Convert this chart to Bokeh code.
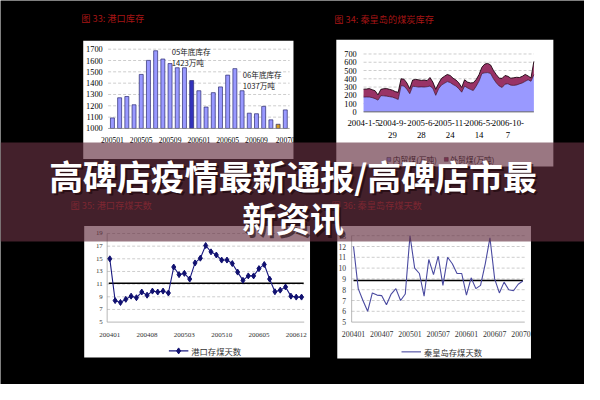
from bokeh.plotting import figure
from bokeh.models import Range1d
from bokeh.embed import file_html
from bokeh.resources import INLINE
from bokeh.core.properties import value

W, H = 584, 384
S = W / 600.0


def fs(px):
    return f"{px * S:.1f}px"


SERIF = "Liberation Serif"
CJK = "Noto Sans CJK SC"

# ---------------- data ----------------
# Fig 33: port coal stock (10k t), 200501..200701
port_stock_months = ["200501", "200502", "200503", "200504", "200505", "200506", "200507",
                     "200508", "200509", "200510", "200511", "200512", "200601", "200602",
                     "200603", "200604", "200605", "200606", "200607", "200608", "200609",
                     "200610", "200611", "200612", "200701"]
port_stock = [1093, 1271, 1282, 1209, 1477, 1601, 1686, 1613, 1573, 1536, 1536, 1423, 1333,
              1189, 1316, 1367, 1471, 1528, 1333, 1135, 1130, 1195, 1076, 1037, 1164]
port_stock_yticks = [1000, 1100, 1200, 1300, 1400, 1500, 1600, 1700]
port_stock_xlabels = ["200501", "200505", "200509", "200601", "200605", "200609", "20070"]
port_stock_xlabel_idx = [0, 4, 8, 12, 16, 20, 24]

# Fig 34: Qinhuangdao coal stock (10k t): domestic + foreign trade coal
qhd_total = [274, 276, 281, 268, 255, 205, 272, 280, 281, 272, 262, 245, 236, 400, 395, 350,
             280, 385, 392, 388, 380, 385, 377, 415, 360, 272, 345, 405, 430, 452, 440, 407,
             385, 350, 295, 388, 360, 350, 352, 390, 450, 540, 578, 586, 567, 500, 450, 407,
             405, 440, 430, 407, 412, 418, 415, 430, 453, 434, 410, 610]
qhd_domestic = [179, 180, 179, 172, 160, 142, 196, 194, 190, 184, 178, 165, 150, 318, 312, 274,
                220, 310, 306, 300, 302, 300, 304, 312, 285, 200, 280, 325, 345, 366, 355, 331,
                312, 280, 238, 312, 290, 272, 258, 310, 372, 464, 472, 475, 464, 400, 350, 312,
                295, 335, 340, 323, 320, 325, 338, 350, 369, 388, 370, 450]
qhd_yticks = [0, 100, 200, 300, 400, 500, 600, 700]
qhd_xlabel_idx = [0, 10, 20, 30, 40, 50]
qhd_xlabels_1 = ["2004-1-5", "2004-9-", "2005-6-", "2005-11-", "2006-5-", "2006-10-"]
qhd_xlabels_2 = ["", "29", "28", "24", "14", "7"]
qhd_series = ["内贸煤(万吨)", "外贸煤(万吨)"]

# Fig 35: port coal stock days, 200401..200701
port_days = [15.0, 8.4, 8.1, 8.6, 9.1, 8.85, 9.75, 9.25, 9.9, 9.75, 9.9, 9.6, 13.7, 12.5,
             12.7, 11.8, 14.35, 15.1, 17.1, 16.1, 15.6, 14.8, 14.8, 14.25, 12.9, 11.6, 12.3,
             12.3, 13.45, 14.1, 11.8, 9.8, 10.05, 10.55, 9.1, 8.95, 8.95]
port_days_avg = 11.15
port_days_yticks = [5, 7, 9, 11, 13, 15, 17, 19]
port_days_xlabels = ["200401", "200408", "200503", "200510", "200605", "200612"]
port_days_xlabel_idx = [0, 7, 14, 21, 28, 35]

# Fig 36: Qinhuangdao coal stock days, 200401..200701
qhd_days = [12.0, 8.1, 7.0, 6.0, 7.7, 7.5, 7.45, 6.6, 7.6, 8.1, 7.0, 7.6, 13.0, 10.0, 9.5,
            7.4, 10.8, 9.4, 11.1, 8.4, 11.0, 10.4, 9.5, 9.5, 7.5, 9.1, 8.1, 8.4, 10.4, 12.8,
            9.0, 7.7, 8.7, 8.0, 7.9, 8.5, 8.8]
qhd_days_avg = 8.85
qhd_days_yticks = [5, 6, 7, 8, 9, 10, 11, 12, 13]
qhd_days_xlabels = ["200401", "200407", "200501", "200507", "200601", "200607", "20070"]
qhd_days_xlabel_idx = [0, 6, 12, 18, 24, 30, 35.6]

headline = ["高碑店疫情最新通报/高碑店市最", "新资讯"]


# ---------------- helpers ----------------
def fit_range(v0, f0, v1, f1):
    d = (v1 - v0) / (f1 - f0)
    s = v0 - f0 * d
    return Range1d(s, s + d)


def xr(v0, px0, v1, px1):
    return fit_range(v0, px0 / 600.0, v1, px1 / 600.0)


def yr(v0, py0, v1, py1):
    return fit_range(v0, (400 - py0) / 400.0, v1, (400 - py1) / 400.0)


p = figure(width=W, height=H, x_range=Range1d(0, 600), y_range=Range1d(400, 0),
           output_backend="svg", toolbar_location=None, min_border=0,
           x_axis_type=None, y_axis_type=None,
           background_fill_color="black", border_fill_color="black", outline_line_color=None)
p.grid.visible = False

p.extra_x_ranges = {
    "x1": xr(0, 115, 24, 292.6),
    "x2": xr(0, 373, len(qhd_total) - 1, 548),
    "x3": xr(0, 112.3, 36, 309.3),
    "x4": xr(0, 362.7, 36, 536.7),
}
p.extra_y_ranges = {
    "y1": yr(1000, 133.3, 1700, 50.7),
    "y2": yr(0, 116, 700, 55.7),
    "y3": yr(5, 335, 19, 242.7),
    "y4": yr(5, 335, 13, 245),
}

TITLE_RED = "#a51515"
GRID = "#b8b8b8"

# ---------------- panel boxes ----------------
p.quad(left=[85, 345, 86, 346], right=[301, 568, 318, 545],
       top=[42, 41, 235, 235], bottom=[165, 173, 372, 373],
       fill_color="white", line_color=None)

# titles
p.text(x=[83, 343, 72, 340], y=[18, 19, 213, 213],
       text=["图 33:  港口库存", "图 34:  秦皇岛的煤炭库存", "图 35:  港口存煤天数", "图 36:  秦皇岛存煤天数"],
       text_font=value(CJK), text_font_size=fs(9.5), text_color=TITLE_RED,
       text_baseline="middle", text_align="left")

# ---------------- Fig 33 ----------------
n1 = len(port_stock)
idx1 = list(range(n1))
p.segment(x0=[-0.6] * 7, x1=[24.6] * 7, y0=port_stock_yticks[1:], y1=port_stock_yticks[1:],
          x_range_name="x1", y_range_name="y1", line_color=GRID, line_dash="3 2", line_width=0.7)
bar_colors = ["#9999FF"] * n1
bar_colors[11] = "#3333BB"
bar_colors[23] = "#D4A020"
p.vbar(x=idx1, top=port_stock, bottom=1000, width=0.55, x_range_name="x1", y_range_name="y1",
       fill_color=bar_colors, line_color="#2a2a70", line_width=0.7)
p.segment(x0=[-0.6], x1=[24.6], y0=[1000], y1=[1000], x_range_name="x1", y_range_name="y1",
          line_color="#888888", line_width=0.8)
p.text(x=[105] * len(port_stock_yticks), y=port_stock_yticks, text=[str(v) for v in port_stock_yticks],
       y_range_name="y1", text_align="right", text_baseline="middle",
       text_font=value(SERIF), text_font_size=fs(8.5), text_color="black")
p.text(x=port_stock_xlabel_idx, y=[145.5] * 7, text=port_stock_xlabels, x_range_name="x1",
       text_align="center", text_baseline="middle",
       text_font=value(SERIF), text_font_size=fs(7.8), text_color="black")
p.text(x=[176, 176, 249, 249], y=[53, 65, 77, 88.5],
       text=["05年底库存", "1423万吨", "06年底库存", "1037万吨"],
       text_align="left", text_baseline="middle",
       text_font=value(CJK), text_font_size=fs(7.8), text_color="#222222")

# ---------------- Fig 34 ----------------
n2 = len(qhd_total)
idx2 = list(range(n2))
p.segment(x0=[0] * 7, x1=[n2 - 1] * 7, y0=qhd_yticks[1:], y1=qhd_yticks[1:],
          x_range_name="x2", y_range_name="y2", line_color=GRID, line_dash="3 2", line_width=0.7)
p.varea(x=idx2, y1=[0] * n2, y2=qhd_domestic, x_range_name="x2", y_range_name="y2",
        fill_color="#9999FF")
p.varea(x=idx2, y1=qhd_domestic, y2=qhd_total, x_range_name="x2", y_range_name="y2",
        fill_color="#993366")
p.line(x=idx2, y=qhd_domestic, x_range_name="x2", y_range_name="y2",
       line_color="#3a1030", line_width=0.7)
p.line(x=idx2, y=qhd_total, x_range_name="x2", y_range_name="y2",
       line_color="#1a0510", line_width=0.9)
p.segment(x0=[0], x1=[n2 - 1], y0=[0], y1=[0], x_range_name="x2", y_range_name="y2",
          line_color="#555555", line_width=0.9)
p.text(x=[366] * len(qhd_yticks), y=qhd_yticks, text=[str(v) for v in qhd_yticks],
       y_range_name="y2", text_align="right", text_baseline="middle",
       text_font=value(SERIF), text_font_size=fs(8.5), text_color="black")
p.text(x=qhd_xlabel_idx, y=[127.5] * 6, text=qhd_xlabels_1, x_range_name="x2",
       text_align="center", text_baseline="middle",
       text_font=value(SERIF), text_font_size=fs(9), text_color="black")
p.text(x=qhd_xlabel_idx, y=[140.5] * 6, text=qhd_xlabels_2, x_range_name="x2",
       text_align="center", text_baseline="middle",
       text_font=value(SERIF), text_font_size=fs(9), text_color="black")
# legend
p.quad(left=[397, 456], right=[401, 460], top=[163.5, 163.5], bottom=[167.5, 167.5],
       fill_color=["#9999FF", "#993366"], line_color="#222222", line_width=0.5)
p.text(x=[403, 462], y=[166, 166], text=qhd_series, text_align="left", text_baseline="middle",
       text_font=value(CJK), text_font_size=fs(8), text_color="black")

# ---------------- Fig 35 ----------------
n3 = len(port_days)
idx3 = list(range(n3))
p.segment(x0=[-0.5] * 7, x1=[36.5] * 7, y0=port_days_yticks[1:], y1=port_days_yticks[1:],
          x_range_name="x3", y_range_name="y3", line_color=GRID, line_dash="3 2", line_width=0.7)
p.segment(x0=[-0.5, -0.5], x1=[36.5, -0.5], y0=[5, 5], y1=[5, 19],
          x_range_name="x3", y_range_name="y3", line_color="#999999", line_width=0.7)
p.line(x=[-0.2, 36.4], y=[port_days_avg] * 2, x_range_name="x3", y_range_name="y3",
       line_color="black", line_width=1.6)
p.line(x=idx3, y=port_days, x_range_name="x3", y_range_name="y3",
       line_color="#1a1a80", line_width=1.1)
p.scatter(x=idx3, y=port_days, x_range_name="x3", y_range_name="y3", marker="diamond",
          size=6, fill_color="#101070", line_color="#101070")
p.text(x=[105] * len(port_days_yticks), y=port_days_yticks, text=[str(v) for v in port_days_yticks],
       y_range_name="y3", text_align="right", text_baseline="middle",
       text_font=value(SERIF), text_font_size=fs(7), text_color="#333333")
p.text(x=port_days_xlabel_idx, y=[348.5] * 6, text=port_days_xlabels, x_range_name="x3",
       text_align="center", text_baseline="middle",
       text_font=value(SERIF), text_font_size=fs(7.2), text_color="#333333")
p.line(x=[173, 193], y=[365, 365], line_color="#1a1a80", line_width=1.1)
p.scatter(x=[183], y=[365], marker="diamond", size=6, fill_color="#101070", line_color="#101070")
p.text(x=[196], y=[365], text=["港口存煤天数"], text_align="left", text_baseline="middle",
       text_font=value(CJK), text_font_size=fs(8.5), text_color="#333333")

# ---------------- Fig 36 ----------------
n4 = len(qhd_days)
idx4 = list(range(n4))
p.segment(x0=[-0.4] * 8, x1=[36.4] * 8, y0=qhd_days_yticks[1:], y1=qhd_days_yticks[1:],
          x_range_name="x4", y_range_name="y4", line_color=GRID, line_dash="3 2", line_width=0.7)
p.segment(x0=[-0.4, -0.4], x1=[36.4, -0.4], y0=[5, 5], y1=[5, 13],
          x_range_name="x4", y_range_name="y4", line_color="#999999", line_width=0.7)
p.line(x=[0, 36], y=[qhd_days_avg] * 2, x_range_name="x4", y_range_name="y4",
       line_color="black", line_width=1.6)
p.line(x=idx4, y=qhd_days, x_range_name="x4", y_range_name="y4",
       line_color="#4a4aa0", line_width=1.1)
p.text(x=[355] * len(qhd_days_yticks), y=qhd_days_yticks, text=[str(v) for v in qhd_days_yticks],
       y_range_name="y4", text_align="right", text_baseline="middle",
       text_font=value(SERIF), text_font_size=fs(7.8), text_color="#333333")
p.text(x=qhd_days_xlabel_idx, y=[347.5] * 7, text=qhd_days_xlabels, x_range_name="x4",
       text_align="center", text_baseline="middle",
       text_font=value(SERIF), text_font_size=fs(8), text_color="#333333")
p.line(x=[412, 432], y=[366, 366], line_color="#4a4aa0", line_width=1.1)
p.text(x=[435], y=[366], text=["秦皇岛存煤天数"], text_align="left", text_baseline="middle",
       text_font=value(CJK), text_font_size=fs(8.5), text_color="#333333")

# ---------------- banner overlay ----------------
p.quad(left=[0], right=[600], top=[148], bottom=[251], fill_color="#653041", fill_alpha=0.66,
       line_color=None)
p.text(x=[301.5, 301.5], y=[183.5, 227.5], text=headline, text_align="center", text_baseline="middle",
       text_font=value(CJK), text_font_style="bold", text_font_size=fs(34.8),
       text_color="#1a0508", text_alpha=0.6, x_offset=1.2, y_offset=1.2)
p.text(x=[300.5, 300.5], y=[182.5, 226.5], text=headline, text_align="center", text_baseline="middle",
       text_font=value(CJK), text_font_style="bold", text_font_size=fs(34.8), text_color="white")

open("out.html", "w").write(file_html(p, INLINE))
